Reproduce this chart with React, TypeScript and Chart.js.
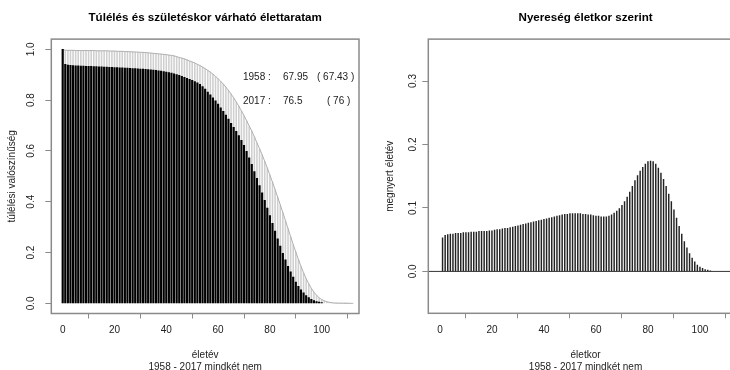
import React, { useEffect, useRef } from "react";
import { Chart, registerables } from "chart.js";

Chart.register(...registerables);

const FONT = "'Liberation Sans', Arial, Helvetica, sans-serif";

// ---- Data ----
const ages1958 = [
  0, 1, 2, 3, 4, 5, 6, 7, 8, 9,
  10, 11, 12, 13, 14, 15, 16, 17, 18, 19,
  20, 21, 22, 23, 24, 25, 26, 27, 28, 29,
  30, 31, 32, 33, 34, 35, 36, 37, 38, 39,
  40, 41, 42, 43, 44, 45, 46, 47, 48, 49,
  50, 51, 52, 53, 54, 55, 56, 57, 58, 59,
  60, 61, 62, 63, 64, 65, 66, 67, 68, 69,
  70, 71, 72, 73, 74, 75, 76, 77, 78, 79,
  80, 81, 82, 83, 84, 85, 86, 87, 88, 89,
  90, 91, 92, 93, 94, 95, 96, 97, 98, 99,
  100,
];
const survival1958 = [
  1.0, 0.941, 0.938, 0.937, 0.936, 0.935, 0.935, 0.934, 0.934, 0.933,
  0.933, 0.933, 0.932, 0.932, 0.931, 0.931, 0.93, 0.93, 0.929, 0.929,
  0.928, 0.928, 0.927, 0.927, 0.926, 0.926, 0.925, 0.924, 0.924, 0.923,
  0.922, 0.922, 0.921, 0.92, 0.919, 0.918, 0.917, 0.915, 0.914, 0.912,
  0.91, 0.908, 0.906, 0.903, 0.9, 0.897, 0.894, 0.89, 0.886, 0.882,
  0.878, 0.873, 0.868, 0.862, 0.853, 0.843, 0.832, 0.821, 0.809, 0.797,
  0.784, 0.77, 0.756, 0.741, 0.725, 0.709, 0.693, 0.677, 0.66, 0.642,
  0.622, 0.598, 0.573, 0.547, 0.519, 0.492, 0.464, 0.435, 0.405, 0.375,
  0.345, 0.315, 0.284, 0.254, 0.225, 0.197, 0.171, 0.146, 0.124, 0.103,
  0.084, 0.067, 0.053, 0.041, 0.031, 0.023, 0.016, 0.011, 0.007, 0.005,
  0.003,
];

const ages2017 = [
  0, 1, 2, 3, 4, 5, 6, 7, 8, 9,
  10, 11, 12, 13, 14, 15, 16, 17, 18, 19,
  20, 21, 22, 23, 24, 25, 26, 27, 28, 29,
  30, 31, 32, 33, 34, 35, 36, 37, 38, 39,
  40, 41, 42, 43, 44, 45, 46, 47, 48, 49,
  50, 51, 52, 53, 54, 55, 56, 57, 58, 59,
  60, 61, 62, 63, 64, 65, 66, 67, 68, 69,
  70, 71, 72, 73, 74, 75, 76, 77, 78, 79,
  80, 81, 82, 83, 84, 85, 86, 87, 88, 89,
  90, 91, 92, 93, 94, 95, 96, 97, 98, 99,
  100, 101, 102, 103, 104, 105, 106, 107, 108, 109,
  110, 111, 112,
];
const survival2017 = [
  1.0, 0.996, 0.996, 0.996, 0.996, 0.995, 0.995, 0.995, 0.995, 0.995,
  0.995, 0.995, 0.995, 0.994, 0.994, 0.994, 0.994, 0.994, 0.993, 0.993,
  0.993, 0.992, 0.992, 0.992, 0.991, 0.991, 0.99, 0.99, 0.989, 0.989,
  0.988, 0.988, 0.987, 0.986, 0.985, 0.984, 0.983, 0.982, 0.981, 0.98,
  0.979, 0.977, 0.976, 0.974, 0.971, 0.968, 0.965, 0.962, 0.958, 0.954,
  0.95, 0.946, 0.941, 0.936, 0.93, 0.924, 0.917, 0.91, 0.902, 0.893,
  0.884, 0.874, 0.863, 0.851, 0.838, 0.824, 0.809, 0.793, 0.776, 0.758,
  0.739, 0.719, 0.699, 0.678, 0.656, 0.632, 0.609, 0.585, 0.559, 0.533,
  0.505, 0.477, 0.448, 0.418, 0.388, 0.357, 0.326, 0.294, 0.263, 0.232,
  0.202, 0.173, 0.146, 0.12, 0.097, 0.077, 0.059, 0.044, 0.032, 0.022,
  0.015, 0.01, 0.006, 0.004, 0.002, 0.001, 0.0007, 0.0004, 0.0002, 0.0001,
  0.0001, 0.0, 0.0,
];

const gainAges = [
  1, 2, 3, 4, 5, 6, 7, 8, 9, 10,
  11, 12, 13, 14, 15, 16, 17, 18, 19, 20,
  21, 22, 23, 24, 25, 26, 27, 28, 29, 30,
  31, 32, 33, 34, 35, 36, 37, 38, 39, 40,
  41, 42, 43, 44, 45, 46, 47, 48, 49, 50,
  51, 52, 53, 54, 55, 56, 57, 58, 59, 60,
  61, 62, 63, 64, 65, 66, 67, 68, 69, 70,
  71, 72, 73, 74, 75, 76, 77, 78, 79, 80,
  81, 82, 83, 84, 85, 86, 87, 88, 89, 90,
  91, 92, 93, 94, 95, 96, 97, 98, 99, 100,
  101, 102, 103, 104,
];
const gainYears = [
  0.053, 0.057, 0.058, 0.059, 0.059, 0.06, 0.06, 0.06, 0.061, 0.061,
  0.061, 0.062, 0.062, 0.062, 0.063, 0.063, 0.063, 0.063, 0.064, 0.064,
  0.065, 0.066, 0.066, 0.067, 0.068, 0.068, 0.069, 0.07, 0.071, 0.072,
  0.073, 0.074, 0.075, 0.076, 0.077, 0.078, 0.079, 0.08, 0.081, 0.082,
  0.083, 0.084, 0.085, 0.086, 0.087, 0.088, 0.089, 0.09, 0.09, 0.091,
  0.091, 0.091, 0.091, 0.091, 0.09, 0.09, 0.089, 0.089, 0.088, 0.087,
  0.087, 0.086, 0.086, 0.086, 0.087, 0.089, 0.092, 0.095, 0.099, 0.104,
  0.11, 0.117, 0.125, 0.134, 0.143, 0.151, 0.158, 0.164, 0.169, 0.173,
  0.174, 0.173, 0.169, 0.163, 0.155, 0.145, 0.134, 0.122, 0.11, 0.097,
  0.084, 0.071, 0.059, 0.047, 0.037, 0.028, 0.021, 0.015, 0.01, 0.007,
  0.005, 0.003, 0.002, 0.001,
];

const ageTicks = [0, 20, 40, 60, 80, 100];
const survivalTicks = [0, 0.2, 0.4, 0.6, 0.8, 1.0];
const gainTicks = [0, 0.1, 0.2, 0.3];

const legendYears = ["1958 :", "2017 :"];
const legendE0 = ["67.95", "76.5"];
const legendAlt = ["( 67.43 )", "( 76 )"];

const leftTitle = "Túlélés és születéskor várható élettaratam";
const rightTitle = "Nyereség életkor szerint";
const xTitleLeft = ["életév", "1958 - 2017 mindkét nem"];
const xTitleRight = ["életkor", "1958 - 2017 mindkét nem"];
const yTitleLeft = "túlélési valószínűség";
const yTitleRight = "megnyert életév";

// ---- Plugins ----
const boxPlugin = {
  id: "rbox",
  afterDraw(chart: any) {
    const { ctx, chartArea: a } = chart;
    ctx.save();
    ctx.strokeStyle = "#8a8a8a";
    ctx.lineWidth = 1.5;
    ctx.strokeRect(a.left, a.top, a.right - a.left, a.bottom - a.top);
    ctx.restore();
  },
};

const zeroLinePlugin = {
  id: "zeroline",
  afterDatasetsDraw(chart: any) {
    const { ctx, chartArea: a } = chart;
    const y = chart.scales.y.getPixelForValue(0);
    ctx.save();
    ctx.strokeStyle = "#333";
    ctx.lineWidth = 1;
    ctx.beginPath();
    ctx.moveTo(a.left, y);
    ctx.lineTo(a.right, y);
    ctx.stroke();
    ctx.restore();
  },
};

const e0TextPlugin = {
  id: "e0text",
  afterDraw(chart: any) {
    const { ctx } = chart;
    ctx.save();
    ctx.font = `10px ${FONT}`;
    ctx.fillStyle = "#222";
    ctx.textBaseline = "middle";
    ctx.textAlign = "left";
    const rowY = [77, 101];
    const altX = [317, 327];
    legendYears.forEach((t, i) => {
      ctx.fillText(t, 243, rowY[i]);
      ctx.fillText(legendE0[i], 283, rowY[i]);
      ctx.fillText(legendAlt[i], altX[i], rowY[i]);
    });
    ctx.restore();
  },
};

function axisX(min: number, max: number, height: number, title: string[]) {
  return {
    type: "linear" as const,
    min,
    max,
    offset: false,
    afterBuildTicks: (s: any) => {
      s.ticks = ageTicks.map((v) => ({ value: v }));
    },
    afterFit: (s: any) => {
      s.height = height;
    },
    grid: { drawOnChartArea: false, drawTicks: true, tickLength: 5, color: "#8a8a8a", lineWidth: 1 },
    border: { display: false },
    ticks: {
      font: { family: FONT, size: 10 },
      color: "#222",
      padding: 5.5,
      maxRotation: 0,
      autoSkip: false,
      callback: (v: any) => String(v),
    },
    title: {
      display: true,
      text: title,
      font: { family: FONT, size: 10, lineHeight: 1.23 },
      color: "#222",
      padding: { top: 0, bottom: -3.4 },
    },
  };
}

function axisY(
  min: number,
  max: number,
  width: number,
  tickVals: number[],
  title: string,
  titlePad: number,
  tickPad: number
) {
  return {
    type: "linear" as const,
    min,
    max,
    afterBuildTicks: (s: any) => {
      s.ticks = tickVals.map((v) => ({ value: v }));
    },
    afterFit: (s: any) => {
      s.width = width;
    },
    grid: { drawOnChartArea: false, drawTicks: true, tickLength: 6, color: "#8a8a8a", lineWidth: 1 },
    border: { display: false },
    ticks: {
      font: { family: FONT, size: 10 },
      color: "#222",
      padding: tickPad,
      minRotation: 90,
      maxRotation: 90,
      crossAlign: "center" as const,
      autoSkip: false,
      callback: (v: any) => Number(v).toFixed(1),
    },
    title: {
      display: true,
      text: title,
      font: { family: FONT, size: 10 },
      color: "#222",
      padding: { top: titlePad, bottom: 0 },
    },
  };
}

function titleOpts(text: string) {
  return {
    display: true,
    text,
    fullSize: false,
    color: "#000",
    font: { family: FONT, size: 11.6, weight: "bold" as const },
    padding: { top: 11, bottom: 14.2 },
  };
}

export default function App() {
  const leftRef = useRef<HTMLCanvasElement | null>(null);
  const rightRef = useRef<HTMLCanvasElement | null>(null);

  useEffect(() => {
    if (!leftRef.current || !rightRef.current) return;
    const black = ages1958.map((a, i) => ({ x: a, y: survival1958[i] }));
    const grey = ages2017.map((a, i) => ({ x: a, y: survival2017[i] }));
    const gain = gainAges.map((a, i) => ({ x: a, y: gainYears[i] }));

    const left = new Chart(leftRef.current, {
      type: "bar",
      data: {
        datasets: [
          { type: "bar", label: "1958", data: black, backgroundColor: "#000", barThickness: 1.5, grouped: false, order: 0 } as any,
          { type: "line", label: "2017", data: grey, borderColor: "#b0b0b0", borderWidth: 1, pointRadius: 0, tension: 0, order: 1 } as any,
          { type: "bar", label: "2017h", data: grey, backgroundColor: "#cfcfcf", barThickness: 0.9, grouped: false, order: 2 } as any,
        ],
      },
      options: {
        animation: false,
        responsive: false,
        events: [],
        layout: { padding: { left: 0, right: 6, top: 0, bottom: 0 } },
        plugins: {
          legend: { display: false },
          tooltip: { enabled: false },
          title: titleOpts(leftTitle),
        },
        scales: {
          x: axisX(-4.4, 114.4, 56.5, xTitleLeft),
          y: axisY(-0.04, 1.04, 51.3, survivalTicks, yTitleLeft, 6, 6.6),
        },
      } as any,
      plugins: [boxPlugin, e0TextPlugin],
    });

    const right = new Chart(rightRef.current, {
      type: "bar",
      data: {
        datasets: [
          { type: "bar", label: "gain", data: gain, backgroundColor: "#222", barThickness: 0.8, grouped: false } as any,
        ],
      },
      options: {
        animation: false,
        responsive: false,
        events: [],
        layout: { padding: { left: 0, right: 2.2, top: 0, bottom: 0 } },
        plugins: {
          legend: { display: false },
          tooltip: { enabled: false },
          title: titleOpts(rightTitle),
        },
        scales: {
          x: axisX(-4.48, 116.48, 56.7, xTitleRight),
          y: axisY(-0.066, 0.366, 63.3, gainTicks, yTitleRight, 19, 2.1),
        },
      } as any,
      plugins: [boxPlugin, zeroLinePlugin],
    });

    return () => {
      left.destroy();
      right.destroy();
    };
  }, []);

  return (
    <div
      style={{
        position: "fixed",
        left: 0,
        top: 0,
        width: 730,
        height: 370,
        overflow: "hidden",
        background: "#fff",
      }}
    >
      <canvas ref={leftRef} width={365} height={370} style={{ position: "absolute", left: 0, top: 0 }} />
      <canvas ref={rightRef} width={380} height={370} style={{ position: "absolute", left: 365, top: 0 }} />
    </div>
  );
}
